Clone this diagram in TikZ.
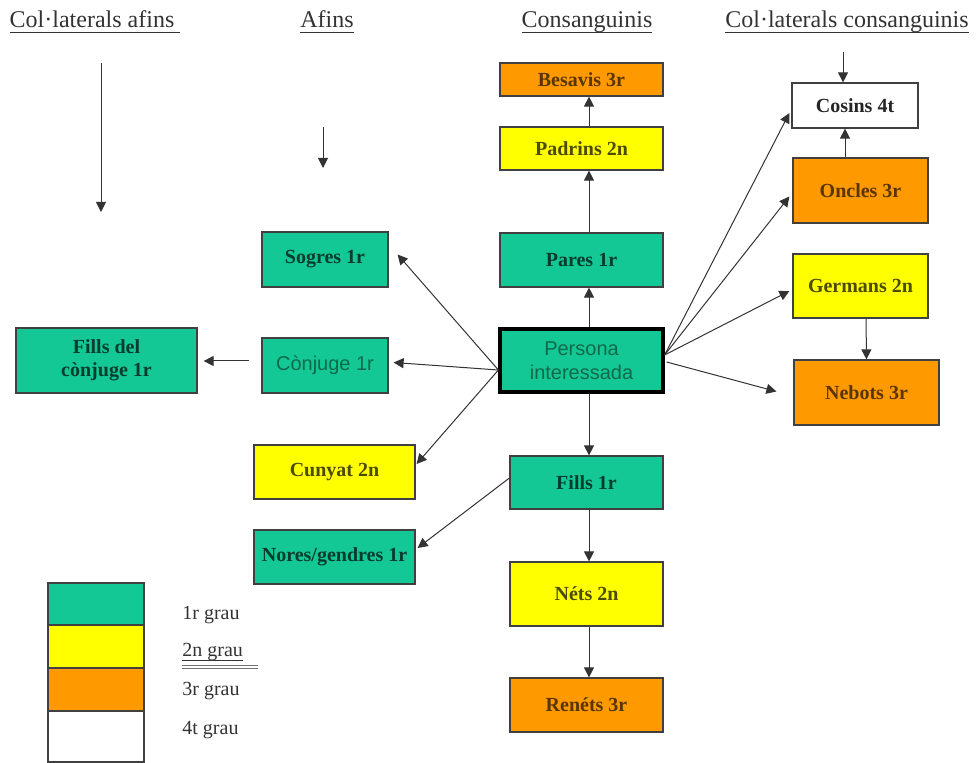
\documentclass[tikz,border=0pt]{standalone}
\usepackage{fontspec}
\setmainfont{Liberation Serif}
\newfontfamily\arialfont{Liberation Sans}
\usepackage{tikz}
\usetikzlibrary{arrows.meta}
\usetikzlibrary{calc}

\definecolor{grauA}{RGB}{20,200,150}
\definecolor{grauB}{RGB}{255,255,0}
\definecolor{grauC}{RGB}{255,153,0}
\definecolor{tealtext}{RGB}{15,105,75}

\newcommand{\subratlla}[1]{\setbox0\hbox{#1}\rlap{\rule[-2.6pt]{\wd0}{0.55pt}}\box0}

\tikzset{
  grau/.style={draw=black!75, line width=0.6pt, font=\bfseries\fontsize{10}{11.5}\selectfont, align=center, inner sep=1pt},
  gr1/.style={grau, fill=grauA, text=grauA!30!black},
  gr2/.style={grau, fill=grauB, text=grauB!30!black},
  gr3/.style={grau, fill=grauC, text=grauC!35!black},
  gr4/.style={grau, fill=white, text=black!85},
  sans/.style={font=\arialfont\fontsize{10}{12}\selectfont, text=tealtext},
  boxwh/.style 2 args={minimum width=#1*0.5pt, minimum height=#2*0.5pt},
  fletxa/.style={-{Triangle[length=5pt, width=5pt]}, line width=0.5pt, black!80},
  hdr/.style={anchor=base, font=\fontsize{12}{14}\selectfont, text=black!80, inner sep=0pt},
  llegenda/.style={anchor=west, font=\fontsize{10}{12}\selectfont, text=black!80, inner sep=0pt}
}

\begin{document}
\begin{tikzpicture}[x=0.5pt, y=-0.5pt]
        \useasboundingbox (0,0) rectangle (977,763);
        % capcaleres
        \node[hdr] (hcolaf) at (95,28) {\subratlla{Col·laterals afins\ }};
        \node[hdr] (hafins) at (327,28) {\subratlla{Afins}};
        \node[hdr] (hconsang) at (587,28) {\subratlla{Consanguinis}};
        \node[hdr] (hcolcons) at (847,28) {\subratlla{Col·laterals consanguinis}};

        % consanguinis
        \node[gr3, boxwh={163}{33}] (besavis) at (581.5,79.5) {Besavis 3r};
        \node[gr2, boxwh={163}{43}] (padrins) at (581.5,148.5) {Padrins 2n};
        \node[gr1, boxwh={163}{54}] (pares) at (581.5,260) {Pares 1r};
        \node[gr1, sans, draw=black, line width=1.6pt, boxwh={163}{63}] (persona) at (581.5,360.5) {Persona\\interessada};
        \node[gr1, boxwh={153}{53}] (fills) at (586.5,482.5) {Fills 1r};
        \node[gr2, boxwh={153}{64}] (nets) at (586.5,594) {Néts 2n};
        \node[gr3, boxwh={153}{54}] (renets) at (586.5,705) {Renéts 3r};

        % col·laterals consanguinis
        \node[gr4, boxwh={126}{45}] (cosins) at (855,105.5) {Cosins 4t};
        \node[gr3, boxwh={135}{65}] (oncles) at (860.5,190.5) {Oncles 3r};
        \node[gr2, boxwh={135}{64}] (germans) at (860.5,286) {Germans 2n};
        \node[gr3, boxwh={145}{65}] (nebots) at (866.5,392.5) {Nebots 3r};

        % afins
        \node[gr1, boxwh={126}{55}] (sogres) at (325,259.5) {Sogres 1r};
        \node[gr1, sans, boxwh={126}{55}] (conjuge) at (325,365.5) {Cònjuge 1r};
        \node[gr2, boxwh={161}{54}] (cunyat) at (334.5,472) {Cunyat 2n};
        \node[gr1, boxwh={161}{54}] (nores) at (334.5,557) {Nores/gendres 1r};
        \node[gr1, boxwh={181}{65}] (fillsconj) at (106.5,360.5) {Fills del\\cònjuge 1r};

        % fletxes soltes
        \coordinate (colafA) at (101,63);
        \coordinate (colafB) at (101,212);
        \coordinate (afinsA) at (323,127);
        \coordinate (afinsB) at (323,168);
        \coordinate (cosinsA) at (843,52);
        \draw[fletxa] (colafA) -- (colafB);
        \draw[fletxa] (afinsA) -- (afinsB);
        \draw[fletxa] (cosinsA) -- ($(cosins.north)+(-12,0)$);

        % linia directa
        \draw[fletxa] ($(padrins.north)+(7.5,0)$) -- ($(besavis.south)+(7.5,0)$);
        \draw[fletxa] ($(pares.north)+(7.5,0)$) -- ($(padrins.south)+(7.5,0)$);
        \draw[fletxa] ($(persona.north)+(7.5,0)$) -- ($(pares.south)+(7.5,0)$);
        \draw[fletxa] ($(persona.south)+(7.5,0)$) -- ($(fills.north)+(2.5,0)$);
        \draw[fletxa] ($(fills.south)+(2.5,0)$) -- ($(nets.north)+(2.5,0)$);
        \draw[fletxa] ($(nets.south)+(2.5,0)$) -- ($(renets.north)+(2.5,0)$);

        % cap a l'esquerra
        \coordinate (pesq) at ($(persona.west)+(0,9.5)$);
        \draw[fletxa] (pesq) -- ($(sogres.east)+(9,-5)$);
        \draw[fletxa] (pesq) -- ($(conjuge.east)+(5,-3)$);
        \draw[fletxa] (pesq) -- ($(cunyat.east)+(1,-8)$);
        \draw[fletxa] ($(fills.west)+(0,-4.5)$) -- ($(nores.east)+(2,-9)$);
        \draw[fletxa] ($(conjuge.west)+(-12,-4.5)$) -- ($(fillsconj.east)+(6,0.5)$);

        % cap a la dreta
        \coordinate (pdre) at ($(persona.east)+(0,-5.5)$);
        \draw[fletxa] (pdre) -- ($(cosins.west)+(-2,7.5)$);
        \draw[fletxa] (pdre) -- ($(oncles.west)+(-3,6)$);
        \draw[fletxa] (pdre) -- ($(germans.west)+(-3,5)$);
        \draw[fletxa] ($(persona.east)+(2,1.5)$) -- ($(nebots.west)+(-17,-1)$);
        \draw[fletxa] ($(oncles.north)+(-15.5,0)$) -- ($(cosins.south)+(-10,0)$);
        \draw[fletxa] ($(germans.south)+(5.5,0)$) -- (nebots.north);

        % llegenda
        \foreach \c/\ya/\yb in {grauA/583/625, grauB/625/668, grauC/668/711, white/711/762}
            \filldraw[fill=\c, draw=black!75, line width=0.6pt] (48,\ya) rectangle (144,\yb);
        \node[llegenda] (g1) at (182,615) {1r grau};
        \node[llegenda] (g2) at (182,652) {\subratlla{2n grau}};
        \node[llegenda] (g3) at (182,691) {3r grau};
        \node[llegenda] (g4) at (182,730) {4t grau};
        \draw[double=white, draw=black!55, line width=0.6pt, double distance=0.8pt] (182,667) -- (258,667);
\end{tikzpicture}
\end{document}
